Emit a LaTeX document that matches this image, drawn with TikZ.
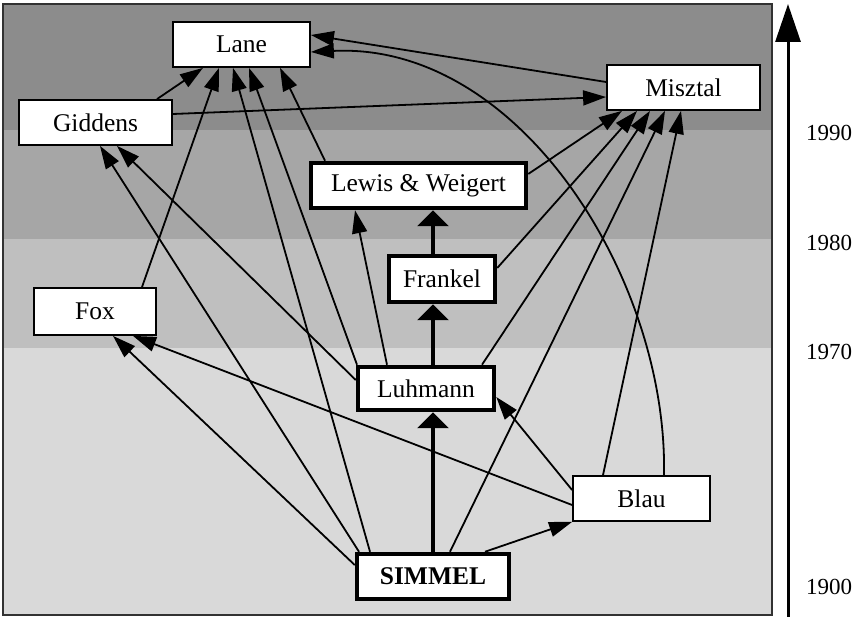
\documentclass[tikz,border=0pt]{standalone}
\usepackage{fontspec}
\setmainfont{Liberation Serif}
\usetikzlibrary{arrows.meta}
\definecolor{bandA}{RGB}{140,140,140}
\definecolor{bandB}{RGB}{166,166,166}
\definecolor{bandC}{RGB}{191,191,191}
\definecolor{bandD}{RGB}{217,217,217}
\definecolor{framec}{RGB}{50,50,50}
\begin{document}
\begin{tikzpicture}[x=1pt,y=-1pt,
  box/.style={draw=black, fill=white, line width=1.8pt, inner sep=0pt,
    font=\fontsize{25.5}{30}\selectfont},
  thickbox/.style={box, line width=4.5pt},
  edge/.style={line width=1.8pt, -{Triangle[length=23pt,width=15pt]}},
  thickedge/.style={line width=4.5pt, -{Triangle[length=16pt,width=31pt]}},
  year/.style={font=\fontsize{23}{28}\selectfont},
  axisarrow/.style={line width=3pt, -{Triangle[length=38pt,width=25pt]}}]
\useasboundingbox (0,0) rectangle (860,617);
% bands
\fill[bandA] (3,4) rectangle (772,130);
\fill[bandB] (3,130) rectangle (772,239);
\fill[bandC] (3,239) rectangle (772,348);
\fill[bandD] (3,348) rectangle (772,615);
\draw[framec, line width=1.5pt] (3,4) rectangle (772,615);
% nodes
\node[box, minimum width=137pt, minimum height=45pt] (lane) at (241.5,44.5) {Lane};
\node[box, minimum width=153pt, minimum height=45pt] (giddens) at (95.5,122.5) {Giddens};
\node[box, minimum width=153pt, minimum height=45pt] (misztal) at (683.5,87.5) {Misztal};
\node[box, minimum width=122pt, minimum height=47pt] (fox) at (95,311.5) {Fox};
\node[box, minimum width=137pt, minimum height=45pt] (blau) at (641.5,498.5) {Blau};
\node[thickbox, minimum width=215pt, minimum height=45pt] (lw) at (418.5,185.5) {Lewis \& Weigert};
\node[thickbox, minimum width=106pt, minimum height=46pt] (frankel) at (442,279) {Frankel};
\node[thickbox, minimum width=136pt, minimum height=43pt] (luhmann) at (426,388.5) {Luhmann};
\node[thickbox, minimum width=152pt, minimum height=45pt] (simmel) at (433,576.5) {\bfseries SIMMEL};
% edges into Lane
\draw[edge] ([xshift=61.5pt]giddens.north) -- ([xshift=-38.5pt]lane.south);
\draw[edge] ([xshift=47pt]fox.north) -- ([xshift=-22.5pt]lane.south);
\draw[edge] ([xshift=-63pt]simmel.north) -- ([xshift=-8.5pt]lane.south);
\draw[edge] ([xshift=-69pt]luhmann.north) -- ([xshift=7.5pt]lane.south);
\draw[edge] ([xshift=-93.5pt]lw.north) -- ([xshift=38.5pt]lane.south);
\draw[edge] ([yshift=5.5pt]misztal.west) -- ([yshift=9.5pt]lane.east);
\draw[edge] ([xshift=22.5pt]blau.north) .. controls (668,280) and (520,42) .. ([yshift=-7.5pt]lane.east);
% edges into Giddens
\draw[edge] ([yshift=8.5pt]luhmann.west) -- ([xshift=21.5pt]giddens.south);
\draw[edge] ([xshift=-74pt]simmel.north) -- ([xshift=4.5pt]giddens.south);
% Giddens to Misztal
\draw[edge] ([yshift=8.5pt]giddens.east) -- ([yshift=-9.5pt]misztal.west);
% edges into Misztal
\draw[edge] ([yshift=11.5pt]lw.east) -- ([xshift=-61.5pt]misztal.south);
\draw[edge] ([yshift=11pt]frankel.east) -- ([xshift=-46.5pt]misztal.south);
\draw[edge] ([xshift=56pt]luhmann.north) -- ([xshift=-33.5pt]misztal.south);
\draw[edge] ([xshift=17pt]simmel.north) -- ([xshift=-18.5pt]misztal.south);
\draw[edge] ([xshift=-38.5pt]blau.north) -- ([xshift=-2.5pt]misztal.south);
% edges into Fox
\draw[edge] ([yshift=11.5pt]simmel.west) -- ([xshift=18pt]fox.south);
\draw[edge] ([yshift=-6.5pt]blau.west) -- ([xshift=38pt]fox.south);
% other edges
\draw[edge] ([yshift=8.5pt]blau.west) -- ([yshift=-8.5pt]luhmann.east);
\draw[edge] ([xshift=52pt]simmel.north) -- (blau.south west);
\draw[edge] ([xshift=-39pt]luhmann.north) -- ([xshift=-63.5pt]lw.south);
% thick edges
\draw[thickedge] (simmel.north) -- ([xshift=7pt]luhmann.south);
\draw[thickedge] ([xshift=7pt]luhmann.north) -- ([xshift=-9pt]frankel.south);
\draw[thickedge] ([xshift=-9pt]frankel.north) -- ([xshift=14.5pt]lw.south);
% time axis
\coordinate (axbot) at (788,617);
\coordinate (axtop) at (788,4);
\draw[axisarrow] (axbot) -- (axtop);
\node[year] (y1990) at (829,133) {1990};
\node[year] (y1980) at (829,243) {1980};
\node[year] (y1970) at (829,352) {1970};
\node[year] (y1900) at (829,587) {1900};
\end{tikzpicture}
\end{document}
